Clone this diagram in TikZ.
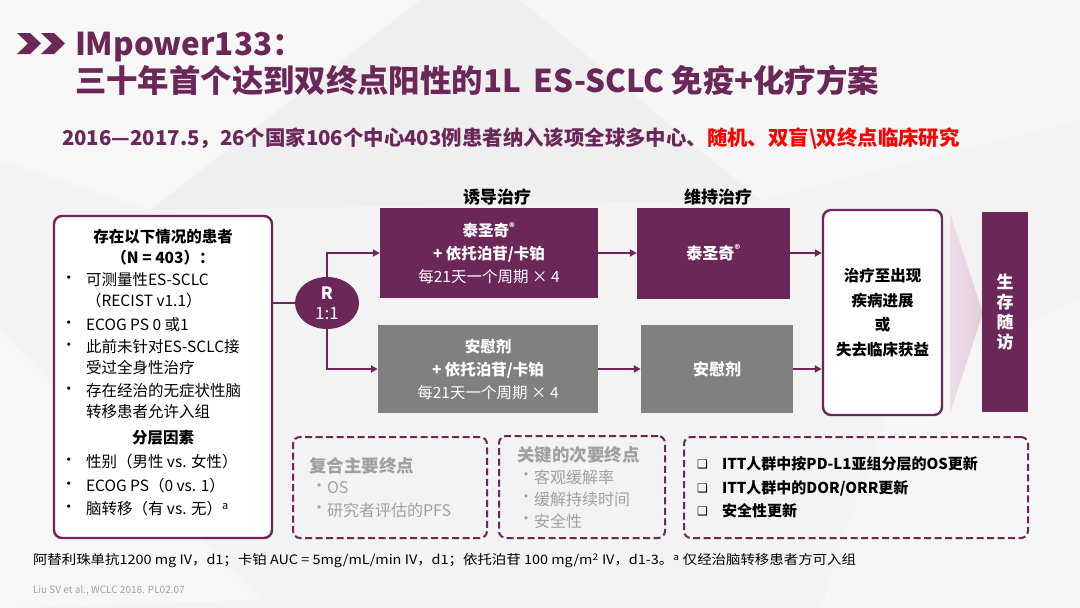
\documentclass[tikz,border=0pt]{standalone}
\usepackage{fontspec}
\setmainfont{Noto Sans CJK SC}
\newfontfamily\dejavu{DejaVu Sans}
\usetikzlibrary{arrows.meta,shapes.geometric}
\definecolor{pur}{HTML}{6B2758}
\definecolor{gbox}{HTML}{808080}
\definecolor{gtxt}{HTML}{A0A0A0}
\definecolor{bgc}{HTML}{F3F3F3}
\definecolor{redt}{HTML}{FF0000}
\definecolor{chev}{HTML}{E3CEDC}
\newcommand{\fs}[1]{\fontsize{#1}{#1}\selectfont}
\tikzset{
  tx/.style={inner sep=0pt, outer sep=0pt},
  pbox/.style={draw=none, fill=pur, text=white, minimum width=218pt, minimum height=90pt, align=center, inner sep=0pt, font=\fontsize{15.5}{23}\selectfont},
  gboxs/.style={pbox, fill=gbox},
  rbox/.style={draw=pur, line width=2.4pt, rounded corners=8pt, fill=white, inner sep=0pt},
  dbox/.style={draw=pur, line width=2pt, dash pattern=on 7pt off 3.5pt, rounded corners=7pt, inner sep=0pt},
  conn/.style={draw=pur, line width=2pt, -{Triangle[length=7pt,width=7pt]}},
  plain/.style={draw=pur, line width=2pt},
}
\begin{document}
\begin{tikzpicture}[x=1pt,y=-1pt]
\useasboundingbox (0,0) rectangle (1080,608);
\fill[bgc] (0,0) rectangle (1080,608);
\fill[white,opacity=0.4] (0,0) -- (420,0) -- (150,210) -- (0,160) -- cycle;
\fill[white,opacity=0.3] (520,0) -- (1080,0) -- (1080,120) -- (760,200) -- cycle;
\fill[white,opacity=0.4] (0,330) -- (260,600) -- (0,608) -- cycle;
\fill[white,opacity=0.3] (900,380) -- (1080,300) -- (1080,608) -- (820,608) -- cycle;
\fill[black,opacity=0.015] (150,210) -- (420,0) -- (520,0) -- (760,200) -- cycle;
% chevrons
\fill[pur] (17,33) -- (30,33) -- (41,43.5) -- (30,54) -- (17,54) -- (28,43.5) -- cycle;
\fill[pur] (41,33) -- (54,33) -- (65,43.5) -- (54,54) -- (41,54) -- (52,43.5) -- cycle;
% title
\node[tx, anchor=base west, text=pur, font=\fs{31.4}\bfseries] (t1) at (75,55) {IMpower133：};
\node[tx, anchor=base west, text=pur, font=\fs{31.4}\bfseries] (t2) at (75,92) {三十年首个达到双终点阳性的1L\, ES-SCLC 免疫+化疗方案};
% subtitle
\node[tx, anchor=base west, font=\fs{20.4}\bfseries] (sub) at (62,145) {\textcolor{pur}{2016—2017.5，26个国家106个中心403例患者纳入该项全球多中心、}\textcolor{redt}{随机、双盲\textbackslash 双终点临床研究}};
% headings
\node[tx, font=\fs{17}\bfseries] (h1) at (497,197) {诱导治疗};
\node[tx, font=\fs{17}\bfseries] (h2) at (718,197) {维持治疗};
% inclusion box
\node[rbox, minimum width=218pt, minimum height=322pt] (incl) at (163,377) {};
\begin{scope}[every node/.style={tx, font=\fs{15.5}}]
\node[font=\fs{15.5}\bfseries] (i1) at (163,237) {存在以下情况的患者};
\node[font=\fs{15.5}\bfseries] (i2) at (163,258) {（N = 403）：};
\node[anchor=west] (b1) at (61,280) {•};
\node[anchor=west] (l1) at (86,280) {可测量性ES-SCLC};
\node[anchor=west] (l1b) at (86,301) {（RECIST v1.1）};
\node[anchor=west] (b2) at (61,325) {•};
\node[anchor=west] (l2) at (86,325) {ECOG PS 0 或1};
\node[anchor=west] (b3) at (61,347) {•};
\node[anchor=west] (l3) at (86,347) {此前未针对ES-SCLC接};
\node[anchor=west] (l3b) at (86,368) {受过全身性治疗};
\node[anchor=west] (b4) at (61,391) {•};
\node[anchor=west] (l4) at (86,391) {存在经治的无症状性脑};
\node[anchor=west] (l4b) at (86,412) {转移患者允许入组};
\node[font=\fs{15.5}\bfseries] (i3) at (163,438) {分层因素};
\node[anchor=west] (b5) at (61,462) {•};
\node[anchor=west] (l5) at (86,462) {性别（男性 vs. 女性）};
\node[anchor=west] (b6) at (61,486) {•};
\node[anchor=west] (l6) at (86,486) {ECOG PS（0 vs. 1）};
\node[anchor=west] (b7) at (61,509) {•};
\node[anchor=west] (l7) at (86,509) {脑转移（有 vs. 无）\textsuperscript{a}};
\end{scope}
% randomisation
\node[ellipse, fill=pur, text=white, minimum width=64pt, minimum height=52pt, inner sep=0pt, align=center, font=\fontsize{17}{20}\selectfont] (R) at (327,303) {\textbf{R}\\1:1};
\draw[plain] (incl.east |- R.west) -- (R.west);
% induction
\node[pbox] (ind1) at (489,253) {\textbf{泰圣奇\textsuperscript{®}}\\\textbf{+ 依托泊苷/卡铂}\\每21天一个周期 × 4};
\node[gboxs, minimum width=220pt, minimum height=88pt] (ind2) at (488,369) {\textbf{安慰剂}\\\textbf{+ 依托泊苷/卡铂}\\每21天一个周期 × 4};
% maintenance
\node[pbox, minimum width=153pt, minimum height=91pt, font=\fs{16}\bfseries] (m1) at (713.5,253) {泰圣奇\textsuperscript{®}};
\node[gboxs, minimum width=152pt, minimum height=88pt, font=\fs{16}\bfseries] (m2) at (717,369) {安慰剂};
% until progression
\node[rbox, minimum width=119pt, minimum height=205pt, align=center, font=\fontsize{15.5}{24.7}\selectfont\bfseries] (stop) at (882.5,312.5) {治疗至出现\\疾病进展\\或\\失去临床获益};
% chevron shape
\shade[left color=chev!70!white, right color=chev] (950,213) -- (983,313) -- (950,413) -- cycle;
% follow up
\node[fill=pur, text=white, minimum width=46pt, minimum height=200pt, inner sep=0pt, align=center, font=\fontsize{17}{20}\selectfont\bfseries] (fu) at (1005,312) {生\\存\\随\\访};
% connectors
\draw[conn] (R.north) -- (R.north |- ind1.west) -- (ind1.west);
\draw[conn] (R.south) -- (R.south |- ind2.west) -- (ind2.west);
\draw[conn] (ind1.east) -- (m1.west);
\draw[conn] (ind2.east) -- (m2.west);
\draw[conn] (m1.east) -- (m1.east -| stop.west);
\draw[conn] (m2.east) -- (m2.east -| stop.west);
% dashed boxes
\node[dbox, minimum width=194pt, minimum height=101pt] (d1) at (390,487.5) {};
\node[dbox, minimum width=166pt, minimum height=102pt] (d2) at (582,487) {};
\node[dbox, minimum width=344pt, minimum height=101pt] (d3) at (856,487.5) {};
\begin{scope}[every node/.style={tx, anchor=west, text=gtxt, font=\fs{16}}]
\node[font=\fs{17.5}\bfseries] (e1) at (309,466) {复合主要终点};
\node (e2b) at (311,488) {•};
\node (e2) at (327,488) {OS};
\node (e3b) at (311,510) {•};
\node (e3) at (327,510) {研究者评估的PFS};
\node[font=\fs{17.5}\bfseries] (f1) at (517,455) {关键的次要终点};
\node (f2b) at (518,477) {•};
\node (f2) at (534,477) {客观缓解率};
\node (f3b) at (518,499) {•};
\node (f3) at (534,499) {缓解持续时间};
\node (f4b) at (518,521) {•};
\node (f4) at (534,521) {安全性};
\end{scope}
\begin{scope}[every node/.style={tx, anchor=west, font=\fs{15}\bfseries}]
\node[font=\dejavu\fs{12}] (c1b) at (697,464) {❑};
\node (c1) at (722,464) {ITT人群中按PD-L1亚组分层的OS更新};
\node[font=\dejavu\fs{12}] (c2b) at (697,488) {❑};
\node (c2) at (722,488) {ITT人群中的DOR/ORR更新};
\node[font=\dejavu\fs{12}] (c3b) at (697,511) {❑};
\node (c3) at (722,511) {安全性更新};
\end{scope}
% footnotes
\node[tx, anchor=west, font=\fs{13}] (fn) at (33,561) {\scalebox{1.11}[1]{阿替利珠单抗1200 mg IV，d1；卡铂 AUC = 5mg/mL/min IV，d1；依托泊苷 100 mg/m\textsuperscript{2} IV，d1-3。\textsuperscript{a} 仅经治脑转移患者方可入组}};
\node[tx, anchor=west, text=gtxt, font=\fs{10}] (ref) at (33,590) {Liu SV et al., WCLC 2018. PL02.07};
\end{tikzpicture}
\end{document}
